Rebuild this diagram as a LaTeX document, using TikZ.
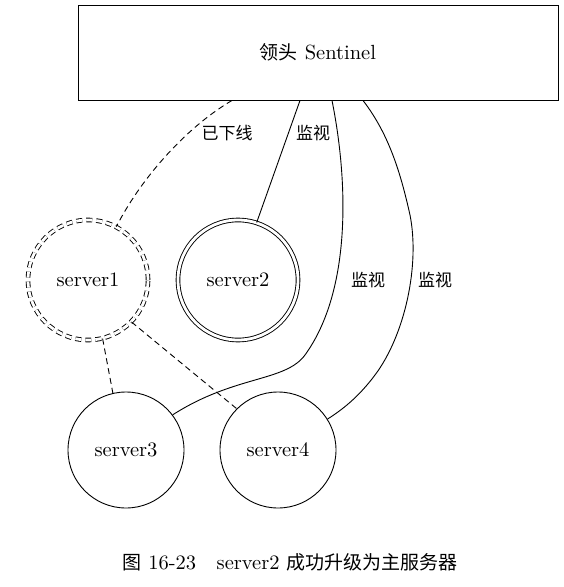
\documentclass[tikz,border=0pt]{standalone}
\usepackage{fontspec}
\setmainfont{lmroman10-regular.otf}
\newfontfamily\cjk{Noto Sans CJK SC}
\begin{document}
\begin{tikzpicture}[x=1pt,y=-1pt,
  every node/.style={font=\fontsize{20.5}{24}\selectfont},
  ln/.style={line width=0.9pt},
  dsh/.style={line width=0.9pt,dash pattern=on 6pt off 4pt},
  srv/.style={draw,circle,line width=0.9pt,inner sep=0pt},
  lbl/.style={inner sep=1pt}]
\useasboundingbox (0,0) rectangle (564,587);
\node[draw,line width=0.9pt,minimum width=480pt,minimum height=95pt,inner sep=0pt] (sen) at (318,52.5) {{\cjk\fontsize{19}{22}\selectfont 领头} Sentinel};
\node[srv,minimum size=120pt,double,double distance=2.8pt,dash pattern=on 6pt off 4pt] (s1) at (88,280) {server1};
\node[srv,minimum size=120pt,double,double distance=2.8pt] (s2) at (238,280) {server2};
\node[srv,minimum size=116pt] (s3) at (126,450) {server3};
\node[srv,minimum size=116pt] (s4) at (278,450) {server4};
\coordinate (a1) at ([xshift=-86pt]sen.south);
\coordinate (a2) at ([xshift=-18pt]sen.south);
\coordinate (a3) at ([xshift=14pt]sen.south);
\coordinate (a4) at ([xshift=45pt]sen.south);
\draw[dsh] (a1) .. controls (185,128) and (140,180) .. (s1.62);
\draw[ln] (a2) -- (s2.72);
\draw[ln] (a3) .. controls (348,180) and (352,290) .. (305,355)
  .. controls (285,382) and (235,375) .. (s3.37);
\draw[ln] (a4) .. controls (388,133) and (400,170) .. (410,215)
  .. controls (420,265) and (405,335) .. (375,375)
  .. controls (360,395) and (345,408) .. (s4.32);
\draw[dsh] (s1.-76) -- (s3.103);
\draw[dsh] (s1.-44) -- (s4.135);
\node[lbl,font=\cjk\fontsize{17}{20}\selectfont] (l1) at (227,133) {已下线};
\node[lbl,font=\cjk\fontsize{17}{20}\selectfont] (l2) at (313,133) {监视};
\node[lbl,font=\cjk\fontsize{17}{20}\selectfont] (l3) at (368,280) {监视};
\node[lbl,font=\cjk\fontsize{17}{20}\selectfont] (l4) at (435,280) {监视};
\node (cap) at (290,562) {{\cjk\fontsize{19}{22}\selectfont 图} 16-23\quad server2 {\cjk\fontsize{19}{22}\selectfont 成功升级为主服务器}};
\end{tikzpicture}
\end{document}
